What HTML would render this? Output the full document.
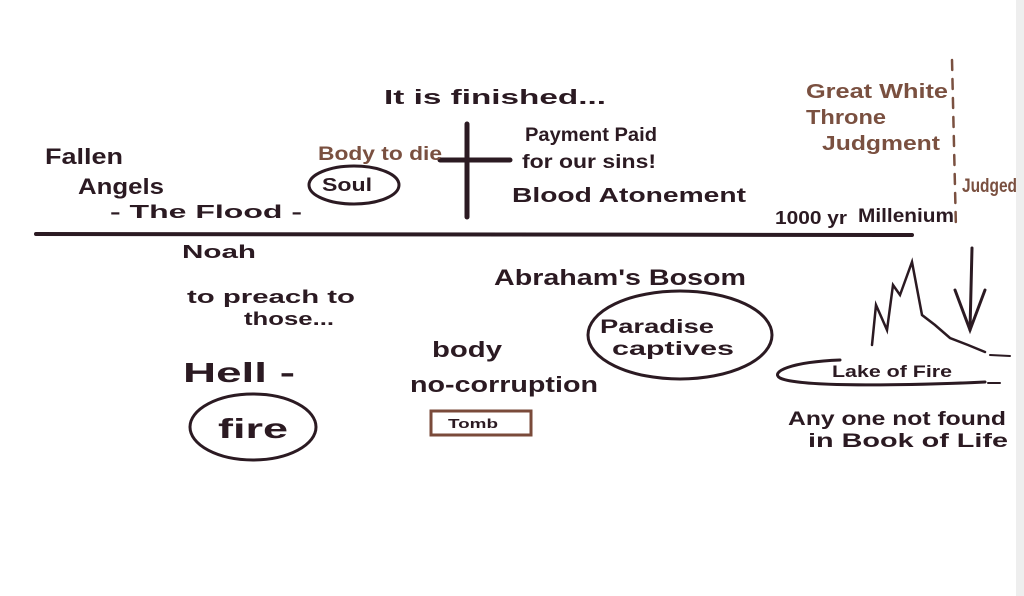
<!DOCTYPE html>
<html><head><meta charset="utf-8"><style>
html,body{margin:0;padding:0;background:#fff}
svg{display:block}
text{font-family:"Liberation Sans",sans-serif;font-weight:bold;fill:#2b1a22}
.b{fill:#7a5040}
</style></head><body>
<svg width="1024" height="596" viewBox="0 0 1024 596">
<rect x="0" y="0" width="1024" height="596" fill="#fff"/>
<rect x="1016" y="0" width="8" height="596" fill="#eeeeee"/>
<g stroke="#2b1a22" fill="none" stroke-linecap="round">
<path d="M36 234 L912 235" stroke-width="4"/>
<path d="M467 124 L467 217" stroke-width="5"/>
<path d="M440 160 L510 160" stroke-width="5"/>
<ellipse cx="354" cy="185" rx="45" ry="19" stroke-width="3"/>
<ellipse cx="253" cy="427" rx="63" ry="33" stroke-width="3"/>
<ellipse cx="680" cy="335" rx="92" ry="44" stroke-width="3"/>
<path d="M840 360 C 790 362,770 372,780 378 C 800 388,920 385,985 382" stroke-width="3"/>
<path d="M972 248 L970 330" stroke-width="3"/>
<path d="M955 290 L970 330 L985 290" stroke-width="3"/>
<path d="M872 345 L876 305 L887 330 L893 285 L900 295 L912 262 L922 315 L935 325 L950 338 L968 345 L985 352" stroke-width="2.5"/>
<path d="M990 355 L1010 356 M988 383 L1000 383" stroke-width="2"/>
<path d="M952 60 L956 230" stroke="#7a5040" stroke-width="2.5" stroke-dasharray="10 9"/>
</g>
<rect x="431" y="411" width="100" height="24" fill="none" stroke="#7a4a3a" stroke-width="3"/>
<g lengthAdjust="spacingAndGlyphs">
<text lengthAdjust="spacingAndGlyphs" x="45" y="164" font-size="22" textLength="78">Fallen</text>
<text lengthAdjust="spacingAndGlyphs" x="78" y="194" font-size="22" textLength="86">Angels</text>
<text lengthAdjust="spacingAndGlyphs" x="110" y="218" font-size="18" textLength="192">- The Flood -</text>
<text lengthAdjust="spacingAndGlyphs" x="182" y="258" font-size="18" textLength="74">Noah</text>
<text lengthAdjust="spacingAndGlyphs" x="187" y="303" font-size="18" textLength="168">to preach to</text>
<text lengthAdjust="spacingAndGlyphs" x="244" y="325" font-size="18" textLength="90">those...</text>
<text lengthAdjust="spacingAndGlyphs" x="183" y="382" font-size="28" textLength="112">Hell -</text>
<text lengthAdjust="spacingAndGlyphs" x="218" y="438" font-size="28" textLength="70">fire</text>
<text lengthAdjust="spacingAndGlyphs" x="384" y="104" font-size="20" textLength="222">It is finished...</text>
<text lengthAdjust="spacingAndGlyphs" x="318" y="160" font-size="19" class="b" textLength="124">Body to die</text>
<text lengthAdjust="spacingAndGlyphs" x="322" y="191" font-size="18" textLength="50">Soul</text>
<text lengthAdjust="spacingAndGlyphs" x="525" y="141" font-size="19" textLength="132">Payment Paid</text>
<text lengthAdjust="spacingAndGlyphs" x="522" y="168" font-size="19" textLength="134">for our sins!</text>
<text lengthAdjust="spacingAndGlyphs" x="512" y="202" font-size="20" textLength="234">Blood Atonement</text>
<text lengthAdjust="spacingAndGlyphs" x="775" y="224" font-size="18" textLength="72">1000 yr</text>
<text lengthAdjust="spacingAndGlyphs" x="858" y="222" font-size="19" textLength="96">Millenium</text>
<text lengthAdjust="spacingAndGlyphs" x="806" y="98" font-size="20" class="b" textLength="142">Great White</text>
<text lengthAdjust="spacingAndGlyphs" x="806" y="124" font-size="20" class="b" textLength="80">Throne</text>
<text lengthAdjust="spacingAndGlyphs" x="822" y="150" font-size="20" class="b" textLength="118">Judgment</text>
<text lengthAdjust="spacingAndGlyphs" x="962" y="192" font-size="19" class="b" textLength="55">Judged</text>
<text lengthAdjust="spacingAndGlyphs" x="494" y="285" font-size="22" textLength="252">Abraham's Bosom</text>
<text lengthAdjust="spacingAndGlyphs" x="600" y="333" font-size="19" textLength="114">Paradise</text>
<text lengthAdjust="spacingAndGlyphs" x="612" y="355" font-size="19" textLength="122">captives</text>
<text lengthAdjust="spacingAndGlyphs" x="432" y="357" font-size="22" textLength="70">body</text>
<text lengthAdjust="spacingAndGlyphs" x="410" y="392" font-size="22" textLength="188">no-corruption</text>
<text lengthAdjust="spacingAndGlyphs" x="448" y="428" font-size="13" textLength="50">Tomb</text>
<text lengthAdjust="spacingAndGlyphs" x="832" y="377" font-size="17" textLength="120">Lake of Fire</text>
<text lengthAdjust="spacingAndGlyphs" x="788" y="425" font-size="19" textLength="218">Any one not found</text>
<text lengthAdjust="spacingAndGlyphs" x="808" y="447" font-size="19" textLength="200">in Book of Life</text>
</g>
</svg>
</body></html>
